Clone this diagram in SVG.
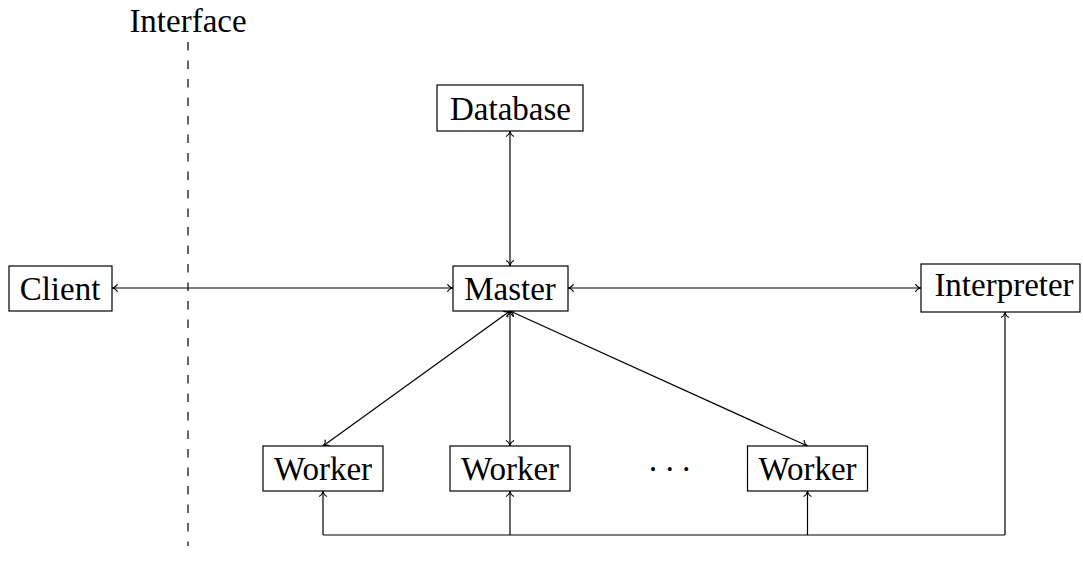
<svg xmlns="http://www.w3.org/2000/svg" width="1083" height="573" viewBox="0 0 1083 573">
<style>
.box{fill:#fff;stroke:#000;stroke-width:1.2}
.lbl{font-family:"Liberation Serif","Times New Roman",serif;font-size:33px;fill:#000;text-anchor:middle}
.ln{fill:none;stroke:#000;stroke-width:1.2}
</style>
<defs>
<marker id="ah" viewBox="-7 -5 8 10" refX="0" refY="0" markerWidth="8" markerHeight="10" markerUnits="userSpaceOnUse" orient="auto-start-reverse">
<path d="M-5.5,-4 C-4.5,-1.5 -1.5,-0.3 0,0 C-1.5,0.3 -4.5,1.5 -5.5,4" fill="none" stroke="#000" stroke-width="1.1"/>
</marker>
</defs>
<rect width="1083" height="573" fill="#fff"/>
<g id="interface">
<text class="lbl" x="188" y="31.5">Interface</text>
<line x1="188" y1="42" x2="188" y2="546" stroke="#000" stroke-width="1.2" stroke-dasharray="8.5 10"/>
</g>
<g id="connectors">
<line class="ln" x1="510" y1="131" x2="510" y2="266" marker-start="url(#ah)" marker-end="url(#ah)"/>
<line class="ln" x1="112" y1="288" x2="453" y2="288" marker-start="url(#ah)" marker-end="url(#ah)"/>
<line class="ln" x1="568" y1="288" x2="921" y2="288" marker-start="url(#ah)" marker-end="url(#ah)"/>
<line class="ln" x1="510" y1="311" x2="323" y2="446" marker-start="url(#ah)" marker-end="url(#ah)"/>
<line class="ln" x1="510" y1="311" x2="510" y2="446" marker-start="url(#ah)" marker-end="url(#ah)"/>
<line class="ln" x1="510" y1="311" x2="807.5" y2="446" marker-start="url(#ah)" marker-end="url(#ah)"/>
<path class="ln" d="M323,535 H1005"/>
<line class="ln" x1="323" y1="535" x2="323" y2="491" marker-end="url(#ah)"/>
<line class="ln" x1="510" y1="535" x2="510" y2="491" marker-end="url(#ah)"/>
<line class="ln" x1="807.5" y1="535" x2="807.5" y2="491" marker-end="url(#ah)"/>
<line class="ln" x1="1005" y1="535" x2="1005" y2="312" marker-end="url(#ah)"/>
</g>
<g id="database">
<rect class="box" x="437" y="85" width="146" height="46"/>
<text class="lbl" x="510.5" y="119.5">Database</text>
</g>
<g id="client">
<rect class="box" x="9" y="266" width="103" height="45"/>
<text class="lbl" x="60" y="299.5">Client</text>
</g>
<g id="master">
<rect class="box" x="453" y="266" width="115" height="45"/>
<text class="lbl" x="510" y="299.5">Master</text>
</g>
<g id="interpreter">
<rect class="box" x="921" y="264" width="159" height="48"/>
<text class="lbl" x="1004" y="295.5">Interpreter</text>
</g>
<g id="worker1">
<rect class="box" x="263" y="446" width="120" height="45"/>
<text class="lbl" x="323" y="479.5">Worker</text>
</g>
<g id="worker2">
<rect class="box" x="450" y="446" width="120" height="45"/>
<text class="lbl" x="510" y="479.5">Worker</text>
</g>
<g id="dots">
<text x="647.6" y="480" font-family="Liberation Serif, serif" font-size="33" letter-spacing="5.55">···</text>
</g>
<g id="worker3">
<rect class="box" x="747.5" y="446" width="120" height="45"/>
<text class="lbl" x="807.5" y="479.5">Worker</text>
</g>
</svg>
